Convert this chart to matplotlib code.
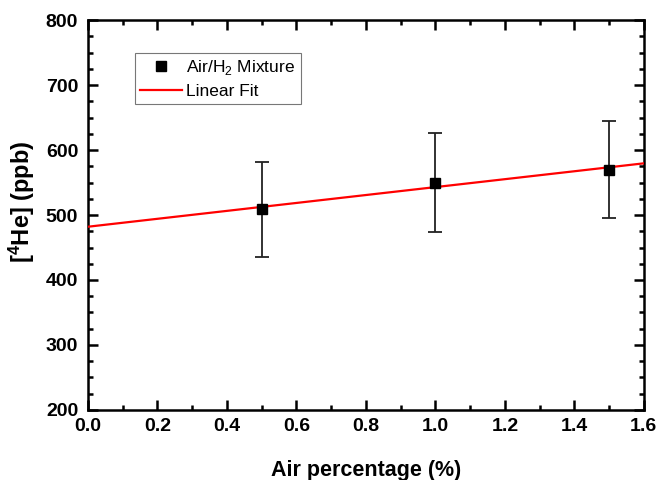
import numpy as np
import matplotlib
matplotlib.use("Agg")
import matplotlib.pyplot as plt
from matplotlib.ticker import MultipleLocator

# ---------- Data ----------
air_pct = [0.5, 1.0, 1.5]
he4_ppb = [509, 550, 570]
he4_err = [73, 76, 74]

fit_x = [0.0, 1.6]
fit_intercept = 482.0
fit_slope = 61.0

plt.rcParams['font.family'] = ['Liberation Sans', 'DejaVu Sans']
plt.rcParams['mathtext.fontset'] = 'custom'
plt.rcParams['mathtext.rm'] = 'Liberation Sans'
plt.rcParams['mathtext.bf'] = 'Liberation Sans:bold'

fig = plt.figure(figsize=(6.61, 4.8), dpi=100)
ax = fig.add_axes([0.133, 0.146, 0.841, 0.812])

# Linear fit line
fx = np.array(fit_x)
ax.plot(fx, fit_intercept + fit_slope * fx, color='#ff0000', lw=1.6,
        label='Linear Fit', zorder=3)

# Data: error bars, then square markers (legend shows only the square)
ax.errorbar(air_pct, he4_ppb, yerr=he4_err, fmt='none',
            ecolor='#222222', elinewidth=1.3, capsize=5, capthick=1.3, zorder=4)
ax.plot(air_pct, he4_ppb, 's', color='black', ms=7, ls='none',
        label='Air/H$_2$ Mixture', zorder=5)

ax.set_xlim(0.0, 1.6)
ax.set_ylim(200, 800)
ax.xaxis.set_major_locator(MultipleLocator(0.2))
ax.xaxis.set_minor_locator(MultipleLocator(0.1))
ax.yaxis.set_major_locator(MultipleLocator(100))
ax.yaxis.set_minor_locator(MultipleLocator(25))
ax.xaxis.set_major_formatter(matplotlib.ticker.FormatStrFormatter('%.1f'))

ax.tick_params(which='both', direction='in', top=True, right=True, width=1.8)
ax.tick_params(which='major', length=7, labelsize=14)
ax.tick_params(axis='x', which='major', pad=6)
ax.tick_params(axis='y', which='major', pad=7)
ax.tick_params(which='minor', length=3.5)
for lab in ax.get_xticklabels() + ax.get_yticklabels():
    lab.set_fontweight('bold')
for s in ax.spines.values():
    s.set_linewidth(1.8)

ax.set_xlabel('Air percentage (%)', fontsize=15.5, fontweight='bold', labelpad=18)
ax.set_ylabel('[$\\mathbf{^4}$He] (ppb)', fontsize=17, fontweight='bold')
ax.yaxis.set_label_coords(-0.092, 0.535)

handles, labels = ax.get_legend_handles_labels()
leg = ax.legend(handles[::-1], labels[::-1], loc='upper left',
                bbox_to_anchor=(0.085, 0.915), fontsize=12.5, frameon=True,
                fancybox=False, edgecolor='#555555', handlelength=2.4,
                borderpad=0.3, labelspacing=0.35, handletextpad=0.25,
                borderaxespad=0)
leg.get_frame().set_linewidth(0.8)

fig.savefig('out.png', dpi=100)
